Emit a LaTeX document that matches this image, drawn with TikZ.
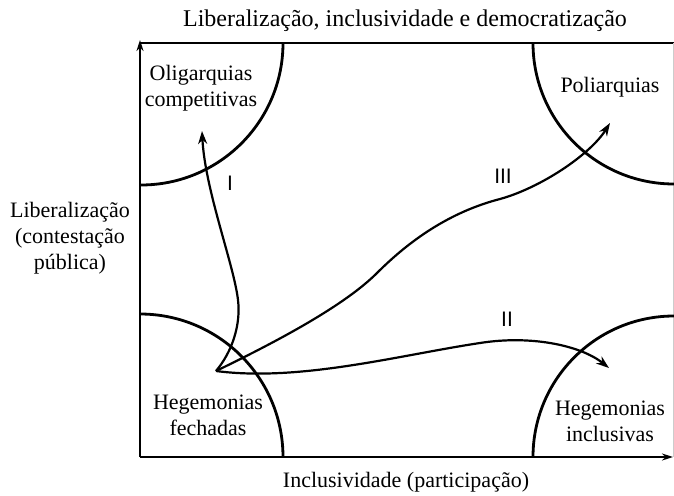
\documentclass[tikz,border=0pt]{standalone}
\usepackage{fontspec}
\setmainfont{Liberation Serif}
\newfontfamily\numfont{Liberation Sans}
\usetikzlibrary{arrows.meta}
\begin{document}
\begin{tikzpicture}[x=1pt,y=-1pt,
  lbl/.style={font=\fontsize{22}{26}\selectfont, align=center, inner sep=0pt},
  num/.style={font=\numfont\fontsize{21}{24}\selectfont, inner sep=0pt},
  axis/.style={line width=2.8pt},
  zone/.style={line width=2.8pt},
  route/.style={line width=2.2pt, -{Stealth[length=13pt,width=9pt]}}]
\useasboundingbox (0,0) rectangle (674,495);
% frame and axes
\coordinate (O) at (140,457);
\coordinate (ytop) at (140,40);
\coordinate (xend) at (673,457);
\draw[axis] (140,43) -- (674,43);
\draw[black!20, line width=0.8pt] (673,43) -- (673,457);
\draw[axis, -{Stealth[length=11pt,width=7pt]}] (O) -- (ytop);
\draw[axis, -{Stealth[length=11pt,width=7pt]}] (O) -- (xend);
% quarter circles
\draw[zone] (283,43) arc[start angle=0, end angle=90, radius=142];
\draw[zone] (533,43) arc[start angle=180, end angle=90, radius=141];
\draw[zone] (140,314) arc[start angle=-90, end angle=0, radius=143];
\draw[zone] (533,457) arc[start angle=180, end angle=270, radius=141];
% routes
\coordinate (start) at (216,371);
\coordinate (endI) at (202,131);
\coordinate (endII) at (609,368);
\coordinate (endIII) at (610,123);
\draw[route] (start) .. controls (232,352) and (241,325) .. (238,300)
  .. controls (234,265) and (205,190) .. (endI);
\draw[route] (start) .. controls (300,382) and (400,355) .. (480,343)
  .. controls (530,335) and (580,345) .. (endII);
\draw[route] (start) .. controls (280,340) and (345,305) .. (377,273)
  .. controls (410,240) and (450,212) .. (500,199)
  .. controls (540,188) and (590,155) .. (endIII);
% texts
\node[lbl, font=\fontsize{24}{28}\selectfont] (title) at (405,21) {Liberalização, inclusividade e democratização};
\node[lbl] (olig) at (201,88) {Oligarquias\\competitivas};
\node[lbl] (poli) at (610,87) {Poliarquias};
\node[lbl] (hegf) at (208,415) {Hegemonias\\fechadas};
\node[lbl] (hegi) at (610,421) {Hegemonias\\inclusivas};
\node[lbl] (ylab) at (70,238) {Liberalização\\(contestação\\pública)};
\node[lbl] (xlab) at (406,482) {Inclusividade (participação)};
\node[num] (n1) at (230,183) {I};
\node[num] (n2) at (507,319) {II};
\node[num] (n3) at (503,176) {III};
\end{tikzpicture}
\end{document}
